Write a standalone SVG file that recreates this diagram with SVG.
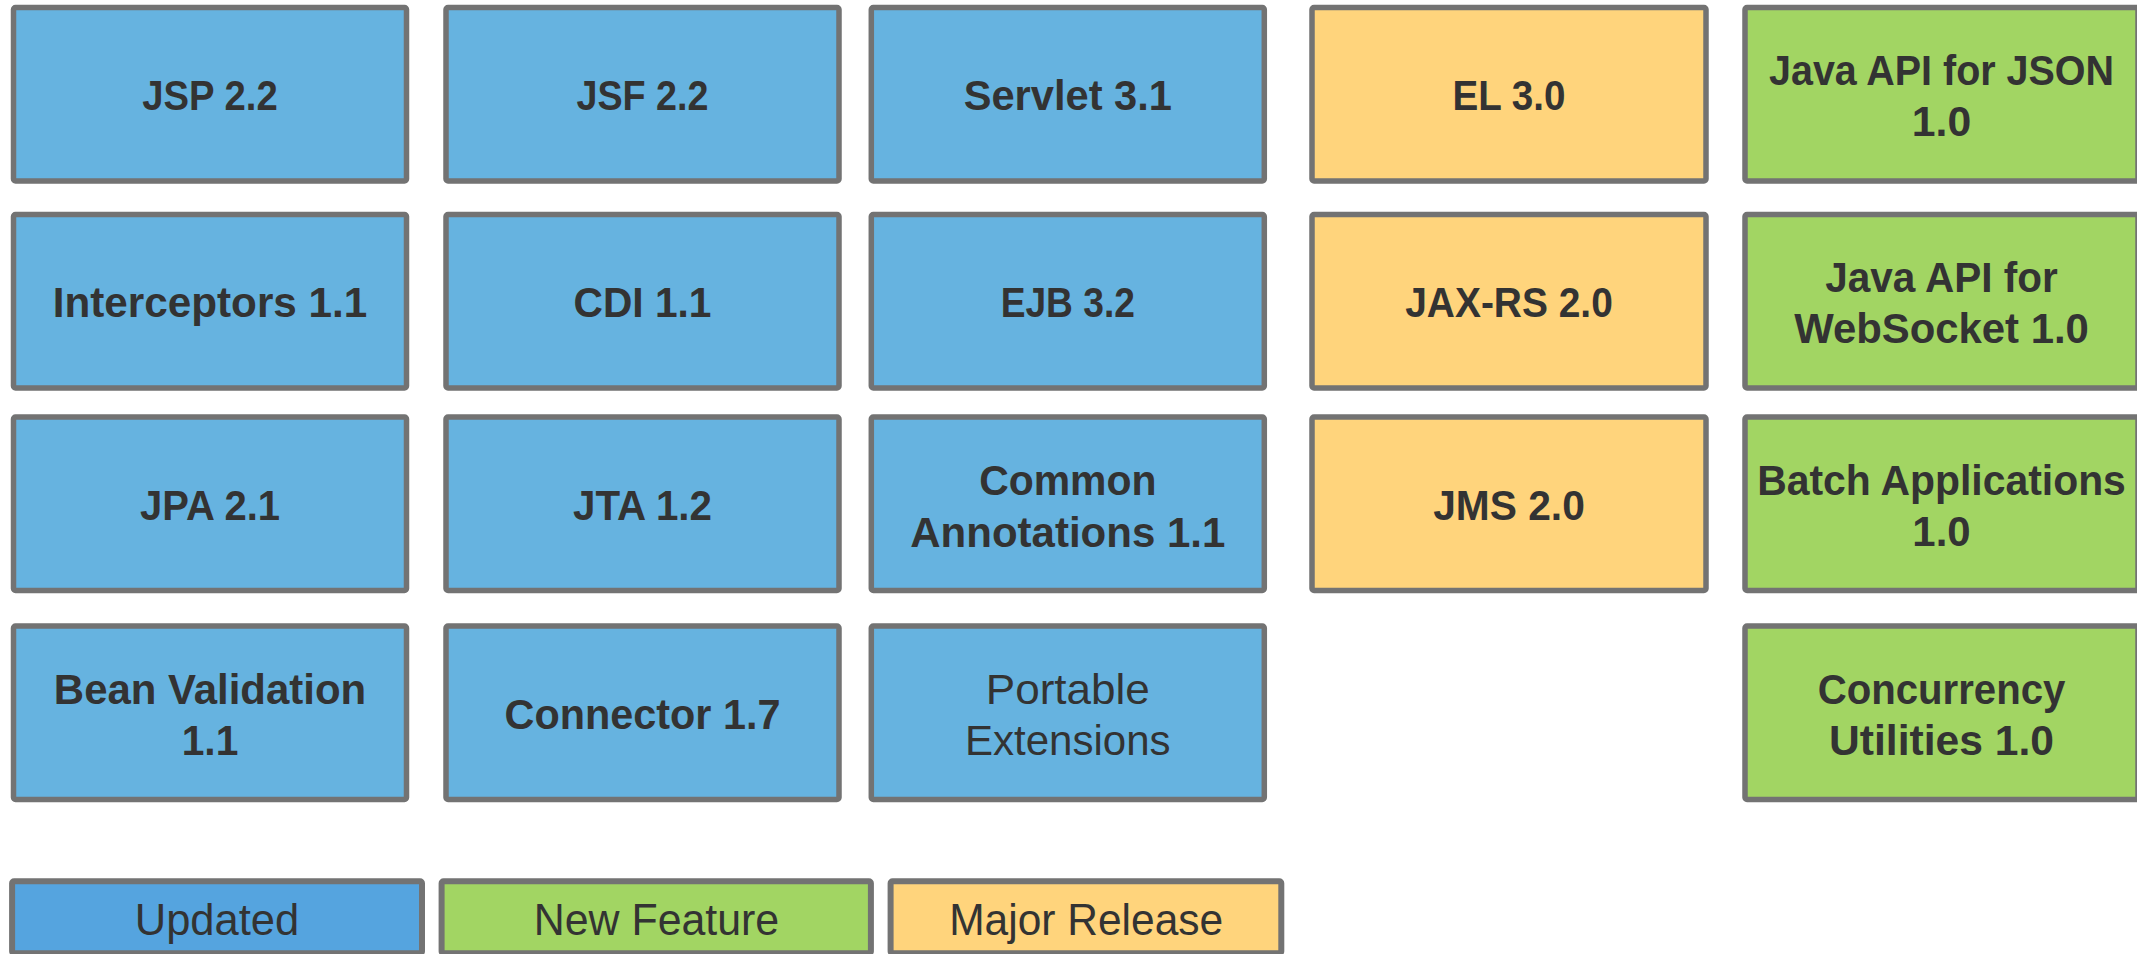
<svg xmlns="http://www.w3.org/2000/svg" width="2137" height="954" viewBox="0 0 2137 954">
<style>
.box{stroke:#737373;stroke-width:5.5}
.blue{fill:#66B3E0}
.green{fill:#A2D563}
.orange{fill:#FFD47C}
.lblue{fill:#55A4DF}
.leg{stroke:#737373;stroke-width:6}
text{font-family:"Liberation Sans",Arial,sans-serif;fill:#333333;text-anchor:middle}
.b{font-weight:bold;font-size:42px}
.r{font-weight:normal;font-size:42px}
.l{font-weight:normal;font-size:44px}
</style>
<rect width="2137" height="954" fill="#FFFFFF"/>
<g id="nodes">
<g id="jsp"><rect class="box blue" x="13.5" y="7.5" width="393" height="173.5" rx="2"/><text class="b" x="210" y="110" textLength="135.5" lengthAdjust="spacingAndGlyphs">JSP 2.2</text></g>
<g id="jsf"><rect class="box blue" x="446" y="7.5" width="393" height="173.5" rx="2"/><text class="b" x="642.5" y="110" textLength="132" lengthAdjust="spacingAndGlyphs">JSF 2.2</text></g>
<g id="servlet"><rect class="box blue" x="871.3" y="7.5" width="393" height="173.5" rx="2"/><text class="b" x="1067.8" y="110" textLength="208.3" lengthAdjust="spacingAndGlyphs">Servlet 3.1</text></g>
<g id="el"><rect class="box orange" x="1312" y="7.5" width="394" height="173.5" rx="2"/><text class="b" x="1509" y="110" textLength="113" lengthAdjust="spacingAndGlyphs">EL 3.0</text></g>
<g id="json"><rect class="box green" x="1745" y="7.5" width="393" height="173.5" rx="2"/><text class="b" x="1941.5" y="84.5" textLength="345" lengthAdjust="spacingAndGlyphs">Java API for JSON</text><text class="b" x="1941.5" y="136" textLength="59.4" lengthAdjust="spacingAndGlyphs">1.0</text></g>

<g id="interceptors"><rect class="box blue" x="13.5" y="214.5" width="393" height="173.5" rx="2"/><text class="b" x="210" y="317" textLength="314.6" lengthAdjust="spacingAndGlyphs">Interceptors 1.1</text></g>
<g id="cdi"><rect class="box blue" x="446" y="214.5" width="393" height="173.5" rx="2"/><text class="b" x="642.5" y="317" textLength="138" lengthAdjust="spacingAndGlyphs">CDI 1.1</text></g>
<g id="ejb"><rect class="box blue" x="871.3" y="214.5" width="393" height="173.5" rx="2"/><text class="b" x="1067.8" y="317" textLength="134.3" lengthAdjust="spacingAndGlyphs">EJB 3.2</text></g>
<g id="jaxrs"><rect class="box orange" x="1312" y="214.5" width="394" height="173.5" rx="2"/><text class="b" x="1509" y="317" textLength="207.6" lengthAdjust="spacingAndGlyphs">JAX-RS 2.0</text></g>
<g id="websocket"><rect class="box green" x="1745" y="214.5" width="393" height="173.5" rx="2"/><text class="b" x="1941.5" y="291.5" textLength="232.5" lengthAdjust="spacingAndGlyphs">Java API for</text><text class="b" x="1941.5" y="343" textLength="294.7" lengthAdjust="spacingAndGlyphs">WebSocket 1.0</text></g>

<g id="jpa"><rect class="box blue" x="13.5" y="417" width="393" height="173.5" rx="2"/><text class="b" x="210" y="520" textLength="140" lengthAdjust="spacingAndGlyphs">JPA 2.1</text></g>
<g id="jta"><rect class="box blue" x="446" y="417" width="393" height="173.5" rx="2"/><text class="b" x="642.5" y="520" textLength="139" lengthAdjust="spacingAndGlyphs">JTA 1.2</text></g>
<g id="common"><rect class="box blue" x="871.3" y="417" width="393" height="173.5" rx="2"/><text class="b" x="1067.8" y="494.5" textLength="177.3" lengthAdjust="spacingAndGlyphs">Common</text><text class="b" x="1067.8" y="546.5" textLength="315" lengthAdjust="spacingAndGlyphs">Annotations 1.1</text></g>
<g id="jms"><rect class="box orange" x="1312" y="417" width="394" height="173.5" rx="2"/><text class="b" x="1509" y="520" textLength="151.7" lengthAdjust="spacingAndGlyphs">JMS 2.0</text></g>
<g id="batch"><rect class="box green" x="1745" y="417" width="393" height="173.5" rx="2"/><text class="b" x="1941.5" y="494.5" textLength="368.7" lengthAdjust="spacingAndGlyphs">Batch Applications</text><text class="b" x="1941.5" y="546" textLength="58.3" lengthAdjust="spacingAndGlyphs">1.0</text></g>

<g id="beanval"><rect class="box blue" x="13.5" y="626" width="393" height="173.5" rx="2"/><text class="b" x="210" y="703.5" textLength="312.3" lengthAdjust="spacingAndGlyphs">Bean Validation</text><text class="b" x="210" y="754.5" textLength="56.7" lengthAdjust="spacingAndGlyphs">1.1</text></g>
<g id="connector"><rect class="box blue" x="446" y="626" width="393" height="173.5" rx="2"/><text class="b" x="642.5" y="729" textLength="276" lengthAdjust="spacingAndGlyphs">Connector 1.7</text></g>
<g id="portable"><rect class="box blue" x="871.3" y="626" width="393" height="173.5" rx="2"/><text class="r" x="1067.8" y="704" textLength="164" lengthAdjust="spacingAndGlyphs">Portable</text><text class="r" x="1067.8" y="754.5" textLength="205.6" lengthAdjust="spacingAndGlyphs">Extensions</text></g>
<g id="concurrency"><rect class="box green" x="1745" y="626" width="393" height="173.5" rx="2"/><text class="b" x="1941.5" y="703.5" textLength="247.7" lengthAdjust="spacingAndGlyphs">Concurrency</text><text class="b" x="1941.5" y="754.5" textLength="225" lengthAdjust="spacingAndGlyphs">Utilities 1.0</text></g>
</g>
<g id="legend">
<g id="leg-updated"><rect class="leg lblue" x="12.1" y="881.3" width="409.9" height="72" rx="2"/><text class="l" x="217" y="935" textLength="164.6" lengthAdjust="spacingAndGlyphs">Updated</text></g>
<g id="leg-new"><rect class="leg green" x="441.6" y="881.3" width="429.3" height="72" rx="2"/><text class="l" x="656.5" y="935" textLength="245.4" lengthAdjust="spacingAndGlyphs">New Feature</text></g>
<g id="leg-major"><rect class="leg orange" x="890.6" y="881.3" width="390.7" height="72" rx="2"/><text class="l" x="1086.2" y="935" textLength="274" lengthAdjust="spacingAndGlyphs">Major Release</text></g>
</g>
<g id="connectors"></g>
</svg>
